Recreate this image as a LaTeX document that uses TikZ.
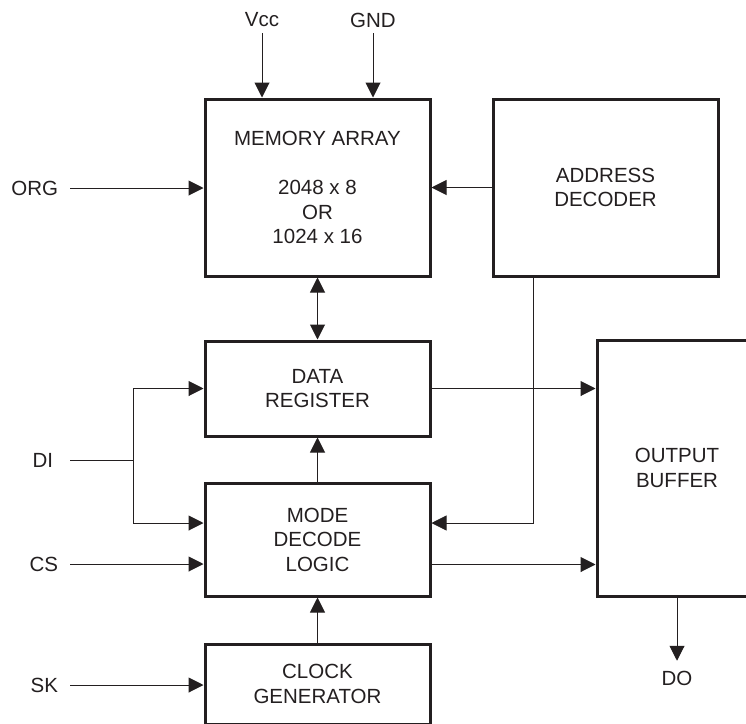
\documentclass[tikz,border=0pt]{standalone}
\usepackage{fontspec}
\setmainfont{Liberation Sans}
\usetikzlibrary{arrows.meta,calc}
\definecolor{ink}{HTML}{231F20}

\begin{document}
\begin{tikzpicture}[x=1pt,y=-1pt,
    every node/.style={text=ink,font=\fontsize{20.5}{24.5}\selectfont},
    block/.style={draw=ink,line width=3pt,align=center,inner sep=0pt},
    pin/.style={inner sep=2pt,outer sep=4pt},
    inpin/.style={inner sep=2pt,outer sep=10pt,anchor=east},
    wire/.style={draw=ink,line width=1pt},
    sig/.style={wire,-{Triangle[length=15pt,width=15pt]}},
    bisig/.style={wire,{Triangle[length=15pt,width=15pt]}-{Triangle[length=15pt,width=15pt]}}]
      \useasboundingbox (0,0) rectangle (746,723);

      % blocks
      \node[block,minimum width=225pt,minimum height=177pt] (mem) at (317.5,187.5)
        {MEMORY ARRAY\\[24.5pt]2048 x 8\\OR\\1024 x 16};
      \node[block,minimum width=225pt,minimum height=177pt] (addr) at (605.5,187.5)
        {ADDRESS\\DECODER};
      \node[block,minimum width=225pt,minimum height=95pt] (data) at (317.5,388.5)
        {DATA\\REGISTER};
      \node[block,minimum width=225pt,minimum height=113pt] (mode) at (317.5,539.5)
        {MODE\\DECODE\\LOGIC};
      \node[block,minimum width=225pt,minimum height=80pt] (clk) at (317.5,684)
        {CLOCK\\GENERATOR};
      \node[block,minimum width=160pt,minimum height=256pt] (outbuf) at (677,468)
        {OUTPUT\\BUFFER};

      % pins
      \node[pin] (vcc) at (262,20) {Vcc};
      \node[pin] (gnd) at (373,20) {GND};
      \node[inpin] (org) at (70,188) {ORG};
      \node[inpin,outer sep=15pt] (di) at (70,460) {DI};
      \node[inpin] (cs) at (70,564) {CS};
      \node[inpin] (sk) at (70,685) {SK};
      \node[pin,outer sep=8pt] (do) at (677,678) {DO};
      \coordinate (dij) at (133,460);

      % connections
      \draw[sig] (vcc) -- (vcc |- mem.north);
      \draw[sig] (gnd) -- (gnd |- mem.north);
      \draw[sig] (org) -- (org -| mem.west);
      \draw[sig] (addr.west) -- (mem.east);
      \draw[bisig] (mem.south) -- (data.north);
      \draw[wire] (di) -- (dij);
      \draw[sig] (dij) |- (data.west);
      \draw[sig] (dij) |- ([yshift=16.5pt]mode.west);
      \draw[sig] (cs) -- (cs -| mode.west);
      \draw[sig] (mode.north) -- (data.south);
      \draw[sig] (clk.north) -- (mode.south);
      \draw[sig] (sk) -- (sk -| clk.west);
      \draw[sig,line width=.8pt] ([xshift=-72.5pt]addr.south) |- ([yshift=16.5pt]mode.east);
      \draw[sig] (data.east) -- (data.east -| outbuf.west);
      \draw[sig] ([yshift=-25pt]mode.east) -- ([yshift=-25pt]mode.east -| outbuf.west);
      \draw[sig] (outbuf.south) -- (do);
\end{tikzpicture}
\end{document}
